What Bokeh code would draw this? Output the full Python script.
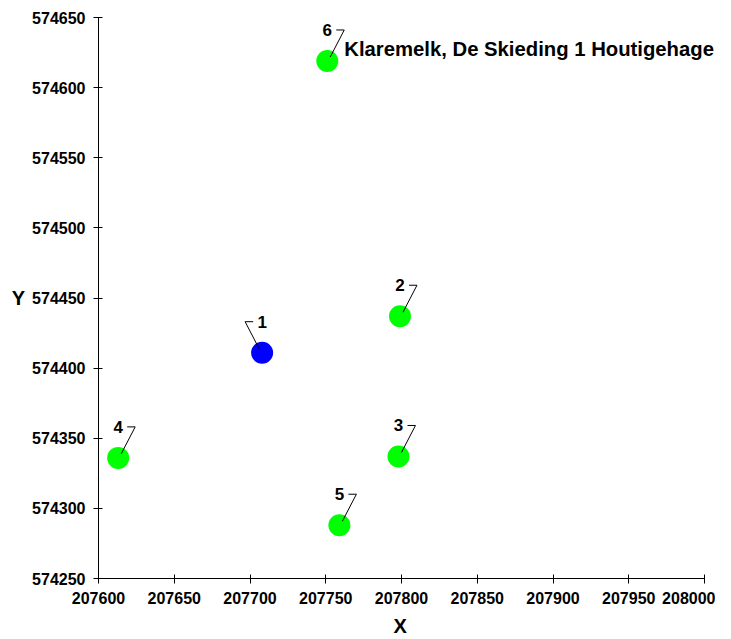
from bokeh.plotting import figure
from bokeh.models import ColumnDataSource, Label, Range1d, FixedTicker, BasicTickFormatter, Title
from bokeh.core.properties import value
from bokeh.embed import file_html
from bokeh.resources import INLINE

# data
ids = ["1", "2", "3", "4", "5", "6"]
xs = [207708, 207799, 207798, 207613, 207759, 207751]
ys = [574411, 574437, 574337, 574336, 574288, 574619]
colors = ["#0000FF", "#00FF00", "#00FF00", "#00FF00", "#00FF00", "#00FF00"]
x_ticks = [207600, 207650, 207700, 207750, 207800, 207850, 207900, 207950, 208000]
y_ticks = [574250, 574300, 574350, 574400, 574450, 574500, 574550, 574600, 574650]
title_text = "Klaremelk, De Skieding 1 Houtigehage"
title_point = 5  # index of the point carrying the name
x_label = "X"
y_label = "Y"

X0, X1 = 207600, 208000
Y0, Y1 = 574250, 574650
FW, FH = 606, 561
EXTRA = 10  # extra frame room on the right so the name text is not clipped
FONT = "Liberation Sans"

dxp = (X1 - X0) / FW
dyp = (Y1 - Y0) / FH

p = figure(frame_width=FW + EXTRA, frame_height=FH,
           x_range=Range1d(X0, X1 + EXTRA * dxp), y_range=Range1d(Y0, Y1),
           output_backend="svg", toolbar_location=None,
           min_border_left=98, min_border_right=1, min_border_top=17, min_border_bottom=10)
p.outline_line_color = None
p.xgrid.visible = False
p.ygrid.visible = False
p.background_fill_color = "white"
p.border_fill_color = "white"

for ax, ticks in ((p.xaxis[0], x_ticks), (p.yaxis[0], y_ticks)):
    ax.ticker = FixedTicker(ticks=ticks)
    ax.formatter = BasicTickFormatter(use_scientific=False)
    ax.minor_tick_line_color = None
    ax.major_tick_in = 4
    ax.major_tick_out = 5
    ax.axis_line_color = "black"
    ax.major_tick_line_color = "black"
    ax.major_label_text_font = FONT
    ax.major_label_text_font_style = "bold"
    ax.major_label_text_font_size = "16px"
    ax.major_label_text_color = "black"
    ax.major_label_standoff = 8
    ax.axis_label_text_font = FONT
    ax.axis_label_text_font_style = "bold"
    ax.axis_label_text_font_size = "20px"
    ax.axis_label_text_color = "black"

p.xaxis[0].bounds = (X0, X1)
p.yaxis[0].axis_label = y_label
p.yaxis[0].axis_label_standoff = 4
p.yaxis[0].axis_label_orientation = "horizontal"

# x axis label centred under the axis itself (not the widened frame)
p.add_layout(Title(text=x_label, align="left", offset=FW / 2 - 8, standoff=12,
                   text_font=FONT, text_font_style="bold", text_font_size="20px",
                   text_color="black"), "below")

src = ColumnDataSource(dict(x=xs, y=ys, c=colors, t=ids))
p.scatter("x", "y", source=src, size=22, fill_color="c", line_color="c", line_width=0)

lx, ly = [], []
for i, (x, y) in enumerate(zip(xs, ys)):
    s = -1 if i == 0 else 1
    lx.append([x + s * 3 * dxp, x + s * 17 * dxp, x + s * 9 * dxp])
    ly.append([y + 4 * dyp, y + 31 * dyp, y + 31 * dyp])
p.multi_line(lx, ly, line_color="black", line_width=1)

p.text("x", "y", text="t", source=src, text_font=value(FONT), text_font_style="bold",
       text_font_size="17px", text_align="center", text_baseline="middle",
       y_offset=-31, text_color="black")

p.add_layout(Label(x=xs[title_point], y=ys[title_point], x_offset=17, y_offset=12,
                   text=title_text, text_font=FONT, text_font_style="bold",
                   text_font_size="20.3px", text_baseline="alphabetic", text_color="black"))

open("out.html", "w").write(file_html(p, INLINE))
